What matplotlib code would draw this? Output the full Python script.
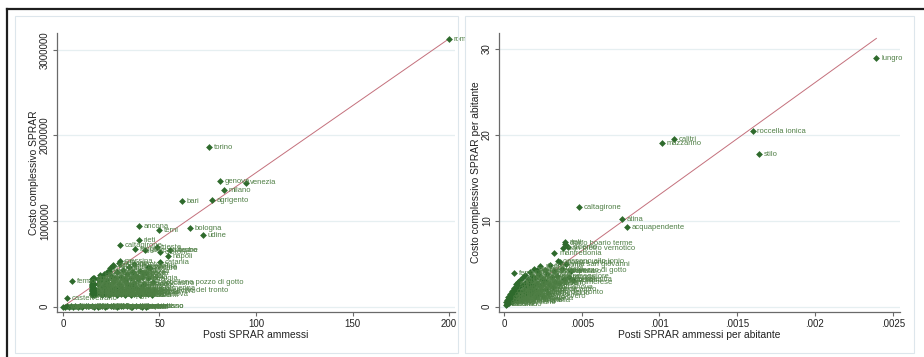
import matplotlib
matplotlib.use("Agg")
import matplotlib.pyplot as plt
from matplotlib.patches import Rectangle
from matplotlib.lines import Line2D
import numpy as np

plt.rcParams['font.family'] = ['Liberation Sans', 'DejaVu Sans']

# --- costo complessivo vs posti ammessi (comuni con etichetta evidente) ---
comuni_tot = ["roma", "torino", "genova", "venezia", "milano", "bari", "agrigento",
              "ancona", "terni", "bologna", "udine", "rieti", "caltagirone", "trieste",
              "foggia", "lamezia terme", "crotone", "viterbo", "napoli", "catania",
              "messina", "fermo", "castelvetrano", "acireale", "siracusa", "trapani",
              "ragusa", "brindisi", "salerno", "cosenza", "lecce", "ascoli piceno",
              "barcellona pozzo di gotto", "san benedetto del tronto"]
posti_tot = [200, 75.5, 81.5, 94.6, 83.4, 61.5, 77.2,
             39.5, 49.6, 65.6, 72.5, 39.5, 29.5, 48.5,
             37.3, 42.5, 50.3, 55.4, 54.2, 50.3,
             29.5, 4.7, 2.2, 0, 26.1, 24.4,
             22.6, 19.2, 44.2, 36.4, 41.6, 15.7,
             46.6, 39.9]
costo_tot = [3130000, 1870000, 1470000, 1450000, 1367000, 1238000, 1243000,
             946000, 892000, 923000, 838000, 779000, 721000, 700000,
             670000, 662000, 642000, 662000, 596000, 526000,
             534000, 300000, 98000, 0, 487000, 449000,
             409000, 370000, 467000, 409000, 390000, 332000,
             292000, 195000]

# resto dei comuni (posti, costo)
posti_altri = [1, 2, 3, 4, 5, 6, 8, 9, 10, 12, 13, 15, 16, 18, 19, 20, 22, 23, 25, 26,
               28, 30, 31, 33, 35, 36, 38, 40, 41, 43, 44,
               15, 15, 15, 15, 15, 15, 15, 15, 15, 15, 15, 15, 15, 16, 16, 16, 16, 16,
               17, 18, 18, 19, 20, 20, 21, 22, 22, 23, 24, 24, 25, 26, 26, 27, 28, 28,
               29, 30, 30, 31, 32, 32, 33, 34, 35, 35, 36, 37, 37, 38, 39, 40, 41, 42,
               43, 44, 45, 46, 47, 19, 21, 25, 29, 33, 36, 39, 42, 44,
               18, 20, 21, 23, 24, 25, 26, 27, 28, 29, 30, 31, 32, 33, 34, 35, 36, 37,
               38, 39, 40, 41, 43, 44, 45]
costo_altri = [1500, 3000, 0, 7000, 2000, 4000, 0, 9000, 1000, 3000, 12000, 6000, 0, 2000,
               8000, 5000, 1000, 4000, 10000, 5000, 0, 3000, 7000, 6000, 0, 2000, 11000,
               4000, 0, 2000, 6000,
               135000, 150000, 165000, 180000, 195000, 210000, 225000, 240000, 255000,
               270000, 285000, 300000, 320000, 140000, 175000, 215000, 260000, 330000,
               145000, 190000, 260000, 160000, 230000, 135000, 175000, 280000, 150000,
               205000, 140000, 250000, 180000, 160000, 290000, 220000, 140000, 195000,
               265000, 150000, 235000, 180000, 140000, 300000, 210000, 160000, 245000,
               135000, 190000, 150000, 280000, 215000, 170000, 140000, 240000, 190000,
               155000, 210000, 170000, 140000, 185000, 300000, 245000, 215000, 175000,
               260000, 160000, 200000, 265000, 150000,
               320000, 340000, 385000, 310000, 420000, 360000, 470000, 330000, 400000,
               510000, 350000, 430000, 320000, 380000, 460000, 340000, 410000, 500000,
               360000, 320000, 420000, 350000, 390000, 330000, 450000]

# --- valori per abitante ---
comuni_pc = ["lungro", "roccella ionica", "stilo", "calitri", "mazzarino", "caltagirone",
             "atina", "acquapendente", "rieti", "darfo boario terme", "san pietro vernotico",
             "siderno", "manfredonia", "cassano allo ionio", "gioiosa ionica", "fermo",
             "barcellona pozzo di gotto", "san benedetto del tronto", "reggio nell'emilia",
             "fara in sabina"]
posti_pc = [0.002395, 0.0016, 0.001642, 0.001093, 0.001014, 0.000482,
            0.000757, 0.000791, 0.000392, 0.000395, 0.000382,
            0.00041, 0.000324, 0.000349, 0.00036, 0.0000643,
            0.00021, 0.00007, 0.00003, 0.000244]
costo_pc = [28.9, 20.5, 17.8, 19.56, 19.1, 11.6,
            10.25, 9.28, 7.57, 7.35, 6.87,
            6.95, 6.2, 5.3, 5.25, 3.89,
            4.27, 1.75, 0.78, 3.1]

posti_pc_altri = [0.000010, 0.000014, 0.000018, 0.000022, 0.000026, 0.000030, 0.000034,
                  0.000038, 0.000042, 0.000046, 0.000050, 0.000054, 0.000058, 0.000062,
                  0.000066, 0.000070, 0.000074, 0.000078, 0.000082, 0.000086, 0.000090,
                  0.000094, 0.000098, 0.000102, 0.000106, 0.000110, 0.000114, 0.000118,
                  0.000122, 0.000126, 0.000130, 0.000134, 0.000138, 0.000142, 0.000146,
                  0.000150, 0.000154, 0.000158, 0.000162, 0.000166, 0.000170, 0.000174,
                  0.000178, 0.000182, 0.000186, 0.000190, 0.000194, 0.000198, 0.000202,
                  0.000206, 0.000210, 0.000214, 0.000218, 0.000226, 0.000230, 0.000234,
                  0.000238, 0.000246, 0.000250, 0.000254, 0.000262, 0.000266, 0.000270,
                  0.000278, 0.000282, 0.000290, 0.000298, 0.000306, 0.000314, 0.000322,
                  0.000330, 0.000340, 0.000355, 0.000370, 0.000385, 0.000400, 0.000416,
                  0.000430, 0.000444]
costo_pc_altri = [0.25, 0.55, 0.35, 0.80, 1.10, 0.45, 0.95,
                  1.45, 0.70, 1.25, 1.80, 0.55, 1.05, 2.20,
                  1.50, 0.85, 2.60, 1.20, 1.90, 0.65, 2.90,
                  1.40, 2.30, 1.00, 3.10, 1.70, 2.50, 0.75,
                  3.40, 2.00, 1.25, 2.80, 3.70, 1.60, 2.25,
                  0.90, 3.20, 1.90, 2.60, 4.00, 1.35, 3.00,
                  2.20, 3.60, 1.70, 4.40, 2.50, 1.10, 3.30,
                  2.00, 4.10, 2.80, 1.50, 3.70, 2.40, 4.70,
                  1.90, 3.20, 2.60, 1.20, 4.30, 3.00, 2.10,
                  3.80, 1.56, 2.70, 4.90, 3.40, 2.30, 4.10,
                  2.90, 3.60, 2.72, 4.40, 3.20, 5.00, 3.50,
                  4.20, 3.10]

comuni_minori = [
    "acri", "agira", "aidone", "alcamo", "altamura", "amantea", "andria", "aprilia",
    "ardea", "ariano irpino", "arpino", "assoro", "avola", "badolato", "bagheria",
    "barletta", "belmonte calabro", "benevento", "biancavilla", "bisignano", "bitonto",
    "bova marina", "brescia", "bronte", "caccamo", "camini", "campobasso", "canicatti",
    "cariati", "carini", "casarano", "caserta", "cassino", "castellammare",
    "castrovillari", "cefalu", "ceglie messapica", "cerignola", "chieti", "cinisi",
    "comiso", "conversano", "corleone", "cutro", "enna", "erice", "favara", "fondi",
    "formia", "francavilla", "gela", "grottaglie", "guardavalle", "isernia", "lanciano",
    "latina", "licata", "lucera", "marsala", "martina franca", "matera",
    "mazara del vallo", "melfi", "mesagne", "modica", "modugno", "molfetta", "monopoli",
    "monreale", "mottola", "nardo", "nicosia", "noto", "ostuni", "pachino", "palermo",
    "partinico", "paterno", "pescara", "petilia policastro", "piazza armerina",
    "pordenone", "potenza", "pozzallo", "riace", "ribera", "riesi", "rosarno", "salemi",
    "san severo", "santeramo", "sciacca", "scicli", "sezze", "sommatino", "sora",
    "sulmona", "taranto", "taurianova", "teramo", "termini imerese", "torremaggiore",
    "trani", "vasto", "vibo valentia", "villa san giovanni", "vittoria", "avellino",
    "belluno", "biella", "cremona", "forli", "grosseto", "la spezia", "livorno", "lodi",
    "mantova", "massa", "novara", "padova", "parma", "pavia", "perugia", "pesaro",
    "piacenza", "pisa", "pistoia", "prato", "ravenna", "rimini", "rovigo", "savona",
    "siena", "sondrio", "trento", "treviso", "varese", "verona", "vicenza", "arezzo",
]

# rette di riferimento (costo medio per posto)
pendenza_tot = 15650
pendenza_pc = 13040

W, H = 924, 357
MARKER = '#2e6a2c'
LABEL = '#4f7f45'
AXIS = '#6a6a6a'


def px_box(x0, y0, x1, y1):
    return [x0 / W, 1 - y1 / H, (x1 - x0) / W, (y1 - y0) / H]


def draw_panel(ax, names, xs, ys, slope, xlim, ylim, xticks, xticklabels,
               yticks, yticklabels, xlabel, ylabel):
    ax.set_xlim(xlim)
    ax.set_ylim(ylim)
    for y in yticks:
        ax.axhline(y, color='#e6eff1', lw=0.9, zorder=0)

    xs = np.asarray(xs, dtype=float)
    ys = np.asarray(ys, dtype=float)
    xfit = np.array([xs.min(), xs.max()])
    ax.plot(xfit, slope * xfit, color='#c4707c', lw=0.7, zorder=2)
    ax.scatter(xs, ys, marker='D', s=12, color=MARKER, linewidths=0, zorder=3, clip_on=False)

    texts = []
    for n, x, y in zip(names, xs, ys):
        t = ax.annotate(n, (x, y), xytext=(3.4, -0.3), textcoords='offset points',
                        va='center', ha='left', fontsize=5.5, color=LABEL,
                        zorder=4, annotation_clip=False)
        texts.append(t)

    for side in ('top', 'right'):
        ax.spines[side].set_visible(False)
    for side in ('left', 'bottom'):
        ax.spines[side].set_color(AXIS)
        ax.spines[side].set_linewidth(0.9)
    ax.tick_params(direction='out', length=3, width=0.8, color=AXIS,
                   labelsize=7, pad=2, labelcolor='#222222')
    ax.set_xticks(xticks)
    ax.set_xticklabels(xticklabels)
    ax.set_yticks(yticks)
    ax.set_yticklabels(yticklabels, rotation=90, va='center')
    ax.set_xlabel(xlabel, fontsize=7.4, labelpad=1, color='#222222')
    ax.set_ylabel(ylabel, fontsize=7.4, labelpad=0.5, color='#222222')
    return texts


fig = plt.figure(figsize=(W / 100, H / 100), dpi=100)

ax1 = fig.add_axes(px_box(57, 33, 455, 312))
ax2 = fig.add_axes(px_box(499, 33, 900, 312))

n_altri = len(posti_altri)
t1 = draw_panel(ax1,
                comuni_tot + comuni_minori[:n_altri],
                posti_tot + posti_altri,
                costo_tot + costo_altri,
                pendenza_tot,
                (-3.1, 203.1), (-62000, 3197000),
                [0, 50, 100, 150, 200], ["0", "50", "100", "150", "200"],
                [0, 1000000, 2000000, 3000000], ["0", "1000000", "2000000", "3000000"],
                "Posti SPRAR ammessi", "Costo complessivo SPRAR")

n_pc = len(posti_pc_altri)
draw_panel(ax2,
           comuni_pc + comuni_minori[30:30 + n_pc],
           posti_pc + posti_pc_altri,
           costo_pc + costo_pc_altri,
           pendenza_pc,
           (-0.0000322, 0.002547), (-0.617, 31.86),
           [0, 0.0005, 0.001, 0.0015, 0.002, 0.0025],
           ["0", ".0005", ".001", ".0015", ".002", ".0025"],
           [0, 10, 20, 30], ["0", "10", "20", "30"],
           "Posti SPRAR ammessi per abitante", "Costo complessivo SPRAR per abitante")

# the "roma" label is cut at the edge of the left panel
clip = Rectangle((0, 0), 465 / W, 1, transform=fig.transFigure, visible=False)
fig.add_artist(clip)
t1[0].set_clip_path(clip)
t1[0].set_clip_on(True)

# panel borders
for x0, x1 in ((15, 458), (465, 914)):
    fig.add_artist(Rectangle((x0 / W, 1 - 353 / H), (x1 - x0) / W, (353 - 16) / H,
                             transform=fig.transFigure, fill=False,
                             edgecolor='#dde6ec', lw=0.8))

# outer frame
fig.add_artist(Line2D([7 / W, 1], [1 - 8.5 / H, 1 - 8.5 / H], transform=fig.transFigure,
                      color='#1e1e1e', lw=1.6))
fig.add_artist(Line2D([7 / W, 7 / W], [0, 1 - 8.5 / H], transform=fig.transFigure,
                      color='#1e1e1e', lw=1.6))

fig.savefig("out.png", dpi=100, facecolor='white')
